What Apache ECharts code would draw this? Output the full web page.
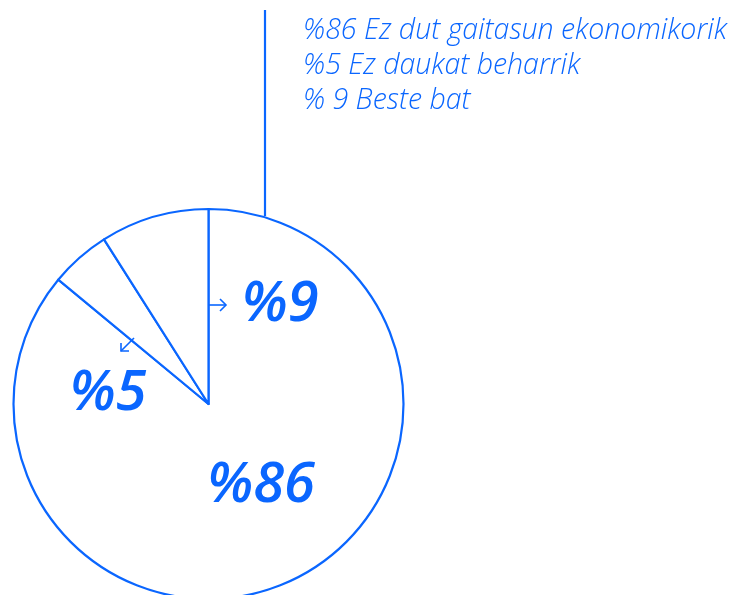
<!DOCTYPE html>
<html>
<head>
<meta charset="utf-8">
<script src="https://cdn.jsdelivr.net/npm/echarts@6/dist/echarts.min.js"></script>
<style>
  html, body { margin: 0; padding: 0; background: #fff; }
  #main { width: 740px; height: 595px; }
</style>
</head>
<body>
<div id="main"></div>
<script>
var myChart = echarts.init(document.getElementById('main'));

// data
var labels = ['%86', '%5', '%9'];
var values = [86, 5, 9];
var legendLines = ['%86 Ez dut gaitasun ekonomikorik', '%5 Ez daukat beharrik', '% 9 Beste bat'];

var blue = '#0a66ff';
// where each big percentage sits
var labelPos = [[261, 486], [108, 394], [280, 305]];

var option = {
    backgroundColor: '#fff',
    animation: false,
    title: {
        text: legendLines.join('\n'),
        left: 298,
        top: 8,
        textStyle: {
            color: blue,
            fontFamily: 'Open Sans',
            fontStyle: 'italic',
            fontWeight: 300,
            fontSize: 28.5,
            lineHeight: 35
        }
    },
    series: [
        {
            type: 'pie',
            center: [208.5, 404],
            radius: [0, 195],
            startAngle: 90,
            clockwise: true,
            silent: true,
            itemStyle: {
                color: '#fff',
                borderColor: blue,
                borderWidth: 2.2
            },
            label: {
                show: true,
                position: 'inside',
                formatter: function (p) { return labels[p.dataIndex]; },
                color: blue,
                fontFamily: 'Open Sans',
                fontStyle: 'italic',
                fontWeight: 600,
                fontSize: 56
            },
            labelLine: { show: false },
            labelLayout: function (params) {
                var p = labelPos[params.dataIndex];
                return { x: p[0], y: p[1], align: 'center', verticalAlign: 'middle' };
            },
            data: values.map(function (v, i) {
                return { name: labels[i], value: v };
            })
        }
    ],
    graphic: [
        {
            type: 'line',
            z: 100,
            shape: { x1: 265, y1: 10, x2: 265, y2: 216 },
            style: { stroke: blue, lineWidth: 2.2 }
        },
        // arrow pointing right, next to %9
        {
            type: 'line',
            z: 100,
            shape: { x1: 209, y1: 305, x2: 226, y2: 305 },
            style: { stroke: blue, lineWidth: 1.6 }
        },
        {
            type: 'polyline',
            z: 100,
            shape: { points: [[220, 299], [226, 305], [220, 311]] },
            style: { stroke: blue, lineWidth: 1.6, fill: null }
        },
        // arrow pointing down-left, above %5
        {
            type: 'line',
            z: 100,
            shape: { x1: 134, y1: 338, x2: 121, y2: 351 },
            style: { stroke: blue, lineWidth: 1.6 }
        },
        {
            type: 'polyline',
            z: 100,
            shape: { points: [[121, 343], [121, 351], [129, 351]] },
            style: { stroke: blue, lineWidth: 1.6, fill: null }
        }
    ]
};
myChart.setOption(option);
</script>
</body>
</html>
